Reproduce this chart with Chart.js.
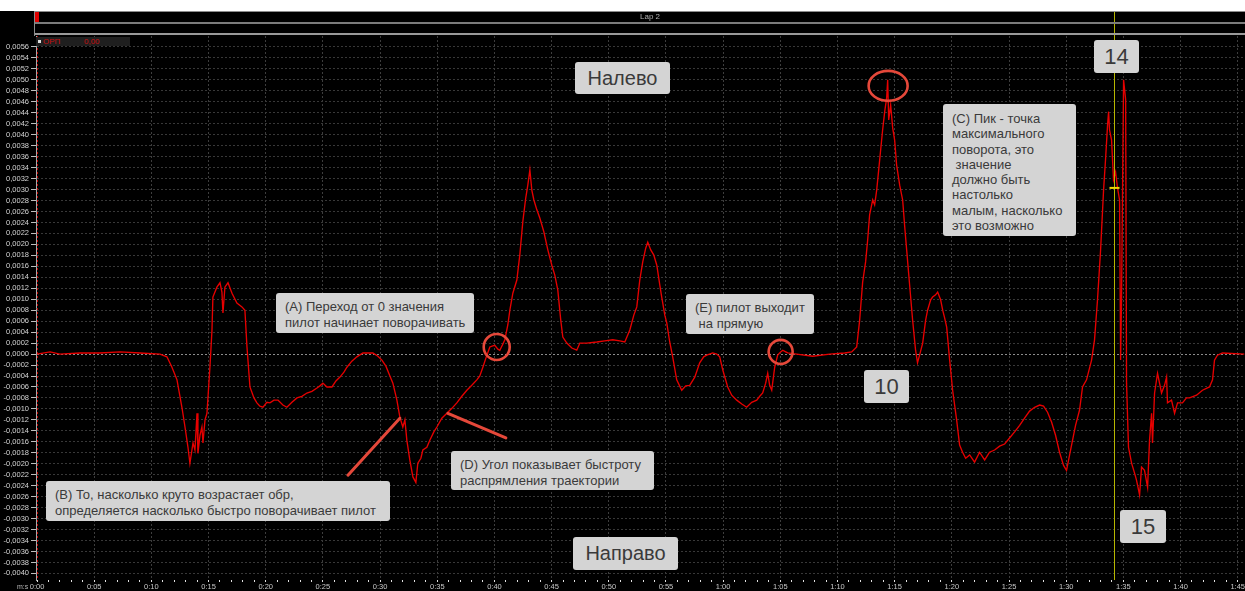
<!DOCTYPE html>
<html>
<head>
<meta charset="utf-8">
<title>ОРП — Lap 2</title>
<script src="https://cdn.jsdelivr.net/npm/chart.js@4.4.1/dist/chart.umd.min.js"></script>
<style>
  html, body { margin: 0; padding: 0; background: #000; overflow: hidden; }
  #wrap { position: relative; width: 1245px; height: 591px; background: #000; overflow: hidden; }
  #chart { position: absolute; left: 0; top: 0; }
  .strip { position: absolute; }
  .note {
    position: absolute; box-sizing: border-box;
    background: #d4d4d4; color: #3a3a3a; border-radius: 3px;
    font-family: "Liberation Sans", Arial, sans-serif; white-space: pre;
  }
  .small { font-size: 13px; line-height: 16px; padding: 6px 0 0 9px; }
  .big { font-size: 20px; text-align: center; }
  .num { font-size: 22px; text-align: center; }
  #lapText { position: absolute; left: 600px; width: 100px; top: 12px; text-align: center;
    font: 8px "Liberation Sans", Arial, sans-serif; color: #b0b0b0; line-height: 10px; }
  #legend { position: absolute; left: 36px; top: 37px; width: 94px; height: 9px; background: #1f1f1f;
    font: 8px "Liberation Sans", Arial, sans-serif; line-height: 9px; color: #c81010; }
  #legend span { position: absolute; top: 0; }
  #unit { position: absolute; left: 17px; top: 583px; font: 7px "Liberation Sans", Arial, sans-serif; color: #b8b8b8; }
  #axisLine { position: absolute; left: 36px; top: 580px; width: 1209px; height: 1px; background: #b4b4b4; }
</style>
</head>
<body>
<div id="wrap">
  <canvas id="chart" width="1245" height="591"></canvas>

  <!-- white band above the lap bar -->
  <div class="strip" style="left:0;top:0;width:1245px;height:11px;background:#fff"></div>
  <!-- lap bar -->
  <div class="strip" style="left:34px;top:11px;width:1211px;height:1px;background:#8c8c8c"></div>
  <div class="strip" style="left:34px;top:11px;width:1px;height:25px;background:#8c8c8c"></div>
  <div class="strip" style="left:35px;top:12px;width:4px;height:10px;background:#e00000"></div>
  <div class="strip" style="left:35px;top:22px;width:1210px;height:2px;background:#7c7c7c"></div>
  <div class="strip" style="left:35px;top:33px;width:1210px;height:2px;background:#9a9a9a"></div>
  <div id="lapText">Lap 2</div>

  <div id="legend">
    <span style="left:2px;top:3px;width:3px;height:3px;background:#ddd"></span>
    <span style="left:7px">ОРП</span>
    <span style="left:48px">0,00</span>
  </div>
  <div id="unit">m:s</div>

  <!-- callouts -->
  <div class="note big" style="left:575px;top:62px;width:95px;height:32px;line-height:32px">Налево</div>
  <div class="note big" style="left:573px;top:537px;width:105px;height:33px;line-height:33px">Направо</div>

  <div class="note small" style="left:276px;top:293px;width:198px;height:40px">(A) Переход от 0 значения
пилот начинает поворачивать</div>

  <div class="note small" style="left:46px;top:481px;width:344px;height:40px">(B) То, насколько круто возрастает обр,
определяется насколько быстро поворачивает пилот</div>

  <div class="note small" style="left:451px;top:451px;width:203px;height:39px">(D) Угол показывает быстроту
распрямления траектории</div>

  <div class="note small" style="left:686px;top:294px;width:128px;height:40px">(E) пилот выходит
 на прямую</div>

  <div class="note small" style="left:943px;top:104px;width:133px;height:132px;line-height:15.3px;padding-top:7px">(C) Пик - точка
максимального
поворота, это
 значение
должно быть
настолько
малым, насколько
это возможно</div>

  <div class="note num" style="left:864px;top:370px;width:45px;height:33px;line-height:33px">10</div>
  <div class="note num" style="left:1094px;top:40px;width:45px;height:33px;line-height:33px">14</div>
  <div class="note num" style="left:1120px;top:510px;width:46px;height:33px;line-height:33px">15</div>
</div>

<script>
// Lap time, seconds
const lapTime = [
  0, 1.14, 2.0, 3.76, 5.5, 7.26, 9.0, 10.75, 11.36, 11.8, 12.24, 12.67, 12.94, 13.2, 13.37, 13.64,
  13.81, 13.99, 14.07, 14.25, 14.42, 14.51, 14.69, 14.86, 15.12, 15.3, 15.38, 15.73, 16.0, 16.17,
  16.26, 16.43, 16.7, 17.05, 17.48, 17.92, 18.18, 18.36, 18.62, 18.97, 19.23, 19.49, 19.76, 20.1,
  20.37, 20.72, 21.07, 21.5, 21.85, 22.29, 22.73, 23.16, 23.6, 24.04, 24.48, 24.74, 25.0, 25.35,
  25.79, 26.14, 26.49, 26.84, 27.1, 27.53, 27.97, 28.5, 28.93, 29.37, 29.81, 30.16, 30.51, 30.86,
  31.12, 31.47, 31.73, 31.99, 32.17, 32.34, 32.6, 32.87, 33.13, 33.3, 33.57, 33.74, 34.09, 34.35,
  34.7, 34.97, 35.4, 35.84, 36.28, 36.71, 37.15, 37.59, 38.02, 38.46, 38.72, 38.99, 39.34, 39.6,
  39.86, 40.03, 40.3, 40.47, 40.73, 40.91, 41.17, 41.35, 41.61, 41.96, 42.22, 42.48, 42.74, 42.92,
  43.1, 43.27, 43.45, 43.71, 43.97, 44.32, 44.67, 45.02, 45.28, 45.54, 45.8, 45.98, 46.33, 46.77,
  47.2, 47.47, 48.08, 48.95, 49.65, 50.35, 50.96, 51.4, 51.84, 52.19, 52.45, 52.71, 52.97, 53.23,
  53.41, 53.67, 53.93, 54.2, 54.46, 54.63, 54.9, 55.07, 55.33, 55.59, 55.94, 56.38, 56.73, 57.08,
  57.52, 57.95, 58.3, 58.57, 59.09, 59.44, 59.7, 59.97, 60.4, 60.75, 61.19, 61.63, 62.06, 62.5,
  62.94, 63.2, 63.46, 63.72, 63.9, 64.07, 64.25, 64.51, 64.77, 65.03, 65.21, 65.47, 65.65, 66.43,
  67.83, 69.32, 70.63, 71.24, 71.68, 71.94, 72.2, 72.46, 72.64, 72.81, 73.08, 73.25, 73.43, 73.69,
  73.95, 74.13, 74.3, 74.39, 74.48, 74.65, 74.83, 75.0, 75.17, 75.44, 75.7, 75.87, 76.05, 76.31,
  76.57, 76.83, 77.0, 77.18, 77.45, 77.71, 77.88, 78.15, 78.32, 78.58, 78.76, 79.02, 79.2, 79.37,
  79.55, 79.81, 80.07, 80.42, 80.68, 80.94, 81.21, 81.56, 81.99, 82.43, 82.87, 83.3, 83.74, 84.18,
  84.62, 85.05, 85.49, 85.93, 86.36, 86.8, 87.24, 87.68, 88.02, 88.37, 88.72, 89.07, 89.42, 89.77,
  90.03, 90.3, 90.56, 90.82, 91.17, 91.43, 91.78, 92.22, 92.48, 92.74, 93.01, 93.27, 93.44, 93.62,
  93.71, 93.79, 93.97, 94.14, 94.32, 94.49, 94.67, 94.76, 94.84, 95.02, 95.2, 95.28, 95.45, 95.72,
  95.98, 96.15, 96.42, 96.59, 96.85, 97.12, 97.29, 97.47, 97.55, 97.73, 97.99, 98.34, 98.6, 98.78,
  98.86, 99.21, 99.48, 99.74, 100.17, 100.52, 100.79, 101.4, 101.92, 102.53, 102.8, 102.97, 103.23,
  103.67, 105.59
];

// ОРП channel value
const oprValue = [
  0, 0.00004, 0, 0.00002, 0.00002, 0.00004, 0.00002, 0, -0.00005, -0.00024, -0.00047, -0.00097, -0.00133, -0.0017, -0.00199, -0.00162,
  -0.00175, -0.00108, -0.00181, -0.00148, -0.00133, -0.00162, -0.0012, -0.00108, -0.00024, 0.00044, 0.00104, 0.00122, 0.0013, 0.00113,
  0.00075, 0.00122, 0.0013, 0.00111, 0.00093, 0.00086, 0.0008, 0.00013, -0.0006, -0.0008, -0.00089, -0.00095, -0.00097, -0.00088,
  -0.00089, -0.00084, -0.00084, -0.00093, -0.00097, -0.00088, -0.0008, -0.00077, -0.00071, -0.00068, -0.00062, -0.00058, -0.00053, -0.0006,
  -0.0006, -0.00049, -0.00042, -0.00033, -0.00024, -0.00013, -0.00005, 0.00002, 0.00002, 0.00002, -0.00004, -0.00011, -0.00022, -0.0004,
  -0.00053, -0.00084, -0.00115, -0.00133, -0.0012, -0.00157, -0.00193, -0.00224, -0.00234, -0.00199, -0.0019, -0.00175, -0.0017, -0.00157,
  -0.00142, -0.00133, -0.00117, -0.00108, -0.00099, -0.00089, -0.00077, -0.00066, -0.00057, -0.00047, -0.0004, -0.00024, -0.00002, 0.00013,
  0.00015, 0.00016, 0.00009, 0.00007, 0.00018, 0.00026, 0.00053, 0.0008, 0.00111, 0.00135, 0.00181, 0.00241, 0.00285, 0.00308,
  0.00336, 0.00299, 0.00281, 0.00263, 0.00248, 0.00223, 0.0019, 0.00162, 0.00144, 0.00117, 0.00062, 0.00031, 0.0002, 0.00011,
  0.00007, 0.0002, 0.0002, 0.00022, 0.00024, 0.00026, 0.00024, 0.00022, 0.00044, 0.00071, 0.00086, 0.00135, 0.00168, 0.00193,
  0.00204, 0.0019, 0.00181, 0.00162, 0.00126, 0.00104, 0.00071, 0.00057, 0.00022, -0.00005, -0.00047, -0.00066, -0.00058, -0.00057,
  -0.00042, -0.00016, -0.00005, -0.00002, 0.00002, 0, -0.00005, -0.00029, -0.0006, -0.00075, -0.00084, -0.00091, -0.00097, -0.00088,
  -0.00084, -0.00077, -0.00071, -0.00053, -0.00035, -0.00057, -0.00066, -0.00024, -0.00002, 0.00004, 0.00007, 0.00004, 0.00002, 0,
  -0.00004, 0, 0.00002, 0.00004, 0.00013, 0.00062, 0.00131, 0.00168, 0.00208, 0.00254, 0.00281, 0.00272, 0.00299, 0.00354,
  0.00409, 0.00442, 0.00467, 0.005, 0.00427, 0.00454, 0.00412, 0.0039, 0.00345, 0.00308, 0.00281, 0.00235, 0.0019, 0.00126,
  0.00062, 0.00007, -0.00016, -0.00002, 0.0002, 0.00062, 0.0008, 0.00099, 0.00104, 0.00108, 0.00113, 0.00099, 0.0008, 0.00066,
  0.00049, -0.00011, -0.00066, -0.0012, -0.00166, -0.00179, -0.0019, -0.00184, -0.00197, -0.00179, -0.00193, -0.00179, -0.00175, -0.00168,
  -0.00164, -0.00153, -0.00142, -0.0013, -0.00117, -0.00104, -0.00097, -0.00093, -0.00095, -0.00106, -0.00124, -0.00148, -0.00179, -0.00203,
  -0.00212, -0.00184, -0.00157, -0.0013, -0.00102, -0.0006, -0.00047, -0.00011, 0.00026, 0.00099, 0.0019, 0.00299, 0.00354, 0.00418,
  0.00442, 0.00409, 0.0039, 0.00318, 0.00332, 0.00303, 0.00281, -0.00011, 0.00099, 0.005, 0.00464, -0.00053, -0.0017, -0.00199,
  -0.00217, -0.0023, -0.00257, -0.00206, -0.00212, -0.00243, -0.00157, -0.00108, -0.00162, -0.00071, -0.00035, -0.00071, -0.00057, -0.00042,
  -0.00089, -0.00084, -0.00108, -0.00089, -0.00089, -0.0008, -0.0008, -0.00075, -0.00066, -0.0006, -0.00047, -0.00011, -0.00002,
  0.00002, 0
];

// Axis ranges and tick spacing
const timeRange = [-0.09, 105.6];
const valueRange = [-0.00412, 0.0058];
const valueStep = 0.0002;
const labelEverySec = 5;

// Cursor position and its readout
const cursorTime = 94.14;
const cursorValue = 0.00303;

// Callout marks, in data units: circles [t, v, rx, ry] and pointer lines [t1, v1, t2, v2]
const calloutRings = [[40.2, 0.00013, 13, 13], [65.03, 0.00004, 12, 12], [74.43, 0.00489, 19.5, 15]];
const calloutLines = [[27.19, -0.00221, 31.73, -0.00117], [35.93, -0.00108, 41.0, -0.00153]];

const fmtTime = s => {
  const m = Math.floor(s / 60), r = Math.round(s - m * 60);
  return m + ':' + String(r).padStart(2, '0');
};
const fmtValue = v => {
  if (Math.abs(v) < 1e-9) return '0,0000';
  return (v < 0 ? '-' : '') + Math.abs(v).toFixed(4).replace('.', ',');
};

const overlay = {
  id: 'overlay',
  beforeDatasetsDraw(chart) {
    const { ctx, chartArea: a, scales: { x } } = chart;
    const x0 = Math.round(x.getPixelForValue(0)) + 0.5;
    ctx.save();
    ctx.strokeStyle = '#c00000';
    ctx.lineWidth = 1;
    ctx.setLineDash([2, 2]);
    ctx.beginPath(); ctx.moveTo(x0, a.top); ctx.lineTo(x0, a.bottom); ctx.stroke();
    ctx.restore();
  },
  afterDatasetsDraw(chart) {
    const { ctx, chartArea: a, scales: { x, y } } = chart;
    ctx.save();
    // cursor
    const cx = Math.round(x.getPixelForValue(cursorTime)) + 0.5;
    ctx.strokeStyle = '#b5b500';
    ctx.lineWidth = 1;
    ctx.beginPath(); ctx.moveTo(cx, 12); ctx.lineTo(cx, a.bottom); ctx.stroke();
    ctx.strokeStyle = '#f0d800';
    ctx.lineWidth = 2;
    const cy = y.getPixelForValue(cursorValue);
    ctx.beginPath(); ctx.moveTo(cx - 5, cy); ctx.lineTo(cx + 5, cy); ctx.stroke();

    // callout rings and pointers
    ctx.strokeStyle = '#e5483a';
    ctx.lineWidth = 2.6;
    calloutRings.forEach(([t, v, rx, ry]) => {
      ctx.beginPath();
      ctx.ellipse(x.getPixelForValue(t), y.getPixelForValue(v), rx, ry, 0, 0, Math.PI * 2);
      ctx.stroke();
    });
    ctx.lineWidth = 3;
    ctx.lineCap = 'round';
    calloutLines.forEach(([t1, v1, t2, v2]) => {
      ctx.beginPath();
      ctx.moveTo(x.getPixelForValue(t1), y.getPixelForValue(v1));
      ctx.lineTo(x.getPixelForValue(t2), y.getPixelForValue(v2));
      ctx.stroke();
    });
    ctx.restore();
  }
};

new Chart(document.getElementById('chart'), {
  type: 'line',
  data: {
    datasets: [{
      label: 'ОРП',
      data: lapTime.map((t, i) => ({ x: t, y: oprValue[i] })),
      borderColor: '#e60000',
      borderWidth: 1.35,
      pointRadius: 0,
      tension: 0,
      fill: false
    }]
  },
  options: {
    responsive: false,
    maintainAspectRatio: false,
    animation: false,
    events: [],
    layout: { padding: { top: 36, left: 0, right: 0, bottom: 0 } },
    plugins: { legend: { display: false }, tooltip: { enabled: false } },
    scales: {
      x: {
        type: 'linear',
        min: timeRange[0],
        max: timeRange[1],
        afterFit: s => { s.height = 11; },
        border: { display: false, dash: [2, 2] },
        grid: {
          color: c => (c.tick && Math.abs(c.tick.value % labelEverySec) < 1e-6) ? '#3d3d3d' : 'rgba(0,0,0,0)',
          tickColor: '#e0e0e0',
          tickLength: 2,
          drawTicks: true
        },
        ticks: {
          stepSize: 1,
          includeBounds: false,
          autoSkip: false,
          maxRotation: 0,
          padding: 0,
          color: '#c8c8c8',
          font: { size: 7.5, family: '"Liberation Sans", Arial, sans-serif' },
          callback: v => (Math.abs(v % labelEverySec) < 1e-6) ? fmtTime(v) : ''
        }
      },
      y: {
        type: 'linear',
        min: valueRange[0],
        max: valueRange[1],
        afterFit: s => { s.width = 36; },
        border: { display: true, color: '#a8a8a8', width: 1, dash: [2, 2] },
        grid: {
          color: c => (c.tick && Math.abs(c.tick.value) < 1e-9) ? '#8c8c8c' : '#383838',
          tickColor: '#bdbdbd',
          tickLength: 5
        },
        ticks: {
          stepSize: valueStep,
          includeBounds: false,
          autoSkip: false,
          padding: 2,
          color: '#d4d4d4',
          font: { size: 7.5, family: '"Liberation Sans", Arial, sans-serif' },
          callback: fmtValue
        }
      }
    }
  },
  plugins: [overlay]
});
</script>
</body>
</html>
